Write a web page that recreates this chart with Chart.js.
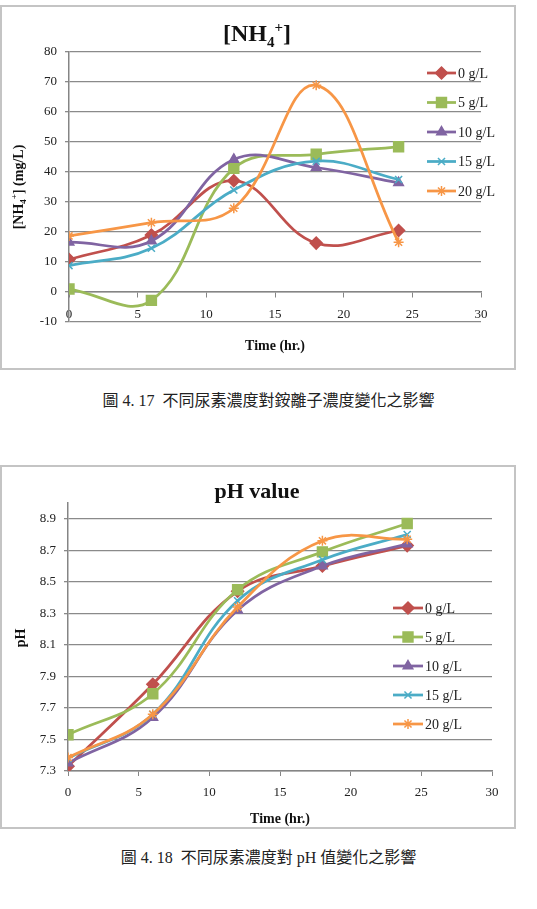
<!DOCTYPE html>
<html>
<head>
<meta charset="utf-8">
<script src="https://cdn.jsdelivr.net/npm/chart.js@4.4.1/dist/chart.umd.min.js"></script>
<style>
  body { margin: 0; background: #fff; width: 537px; height: 909px; position: relative; overflow: hidden; }
  .wrap { position: absolute; left: 0; width: 516px; }
  .frame { position: absolute; left: 0; top: 0; right: 0; bottom: 0; border: 2px solid #c4c4c4; pointer-events: none; }
  .caption { position: absolute; left: 0; width: 537px; text-align: center; font-family: "Liberation Serif", "Noto Sans CJK TC", serif; font-size: 16px; color: #222; }
</style>
</head>
<body>
<div class="wrap" style="top:5px;height:365px;"><canvas id="nh4Chart"></canvas><div class="frame"></div></div>
<div class="caption" style="top:387px;">圖 4. 17&nbsp; 不同尿素濃度對銨離子濃度變化之影響</div>
<div class="wrap" style="top:465px;height:364px;"><canvas id="phChart"></canvas><div class="frame"></div></div>
<div class="caption" style="top:844px;">圖 4. 18&nbsp; 不同尿素濃度對 pH 值變化之影響</div>

<script>
// time points (hr.)
const timeHours = [0, 6, 12, 18, 24];
const seriesLabels = ['0 g/L', '5 g/L', '10 g/L', '15 g/L', '20 g/L'];

// [NH4+] (mg/L)
const nh4_0 = [10.8, 19.0, 37.1, 16.3, 20.5];
const nh4_5 = [1.0, -2.8, 41.2, 45.9, 48.4];
const nh4_10 = [16.6, 17.0, 44.2, 41.5, 36.4];
const nh4_15 = [8.8, 14.6, 34.0, 43.6, 37.5];
const nh4_20 = [18.7, 23.1, 27.9, 68.9, 16.6];

// pH
const ph_0 = [7.33, 7.85, 8.44, 8.60, 8.73];
const ph_5 = [7.53, 7.79, 8.45, 8.69, 8.87];
const ph_10 = [7.35, 7.64, 8.32, 8.60, 8.74];
const ph_15 = [7.38, 7.66, 8.38, 8.64, 8.80];
const ph_20 = [7.385, 7.66, 8.34, 8.76, 8.77];

const phTicks = [7.3, 7.5, 7.7, 7.9, 8.1, 8.3, 8.5, 8.7, 8.9];

const colors = ['#C0504D', '#9BBB59', '#8064A2', '#4BACC6', '#F79646'];
const markers = ['rectRot', 'rect', 'triangle', 'crossRot', 'star'];
const markerSizes = [6, 7, 5.5, 5, 5];
const SERIF = '"Liberation Serif", "Times New Roman", serif';

function makeDatasets(seriesList) {
  return seriesList.map((vals, i) => ({
    label: seriesLabels[i],
    data: vals.map((v, j) => ({ x: timeHours[j], y: v })),
    borderColor: colors[i],
    backgroundColor: colors[i],
    borderWidth: 2.75,
    tension: 0.4,
    pointStyle: markers[i],
    pointRadius: markerSizes[i],
    pointBorderWidth: 1.5,
    pointBackgroundColor: colors[i],
    pointBorderColor: colors[i]
  })).reverse();
}

// draw text made of parts with optional sub/superscripts, centered at (cx, cy)
function drawRich(ctx, parts, cx, cy, size) {
  const small = Math.round(size * 0.62);
  let total = 0;
  parts.forEach(p => {
    ctx.font = 'bold ' + (p.sub || p.sup ? small : size) + 'px ' + SERIF;
    p.w = ctx.measureText(p.t).width;
    total += p.w;
  });
  let x = cx - total / 2;
  ctx.textBaseline = 'alphabetic';
  ctx.textAlign = 'left';
  parts.forEach(p => {
    ctx.font = 'bold ' + (p.sub || p.sup ? small : size) + 'px ' + SERIF;
    let dy = 0;
    if (p.sub) dy = size * 0.22;
    if (p.sup) dy = -size * 0.4;
    ctx.fillText(p.t, x, cy + size * 0.35 + dy);
    x += p.w;
  });
}

function textPlugin(cfg) {
  return {
    id: 'texts',
    afterDraw(chart) {
      const ctx = chart.ctx;
      ctx.save();
      ctx.fillStyle = '#111';
      drawRich(ctx, cfg.title, cfg.titleX, cfg.titleY, cfg.titleSize);
      drawRich(ctx, [{ t: 'Time (hr.)' }], cfg.xTitleX, cfg.xTitleY, 14);
      ctx.save();
      ctx.translate(cfg.yTitleX, cfg.yTitleY);
      ctx.rotate(-Math.PI / 2);
      drawRich(ctx, cfg.yTitle, 0, 0, 14);
      ctx.restore();

      // legend, in original series order
      const ds = chart.data.datasets.slice().reverse();
      ds.forEach((d, i) => {
        const y = cfg.legendY + i * cfg.legendGap;
        ctx.strokeStyle = d.borderColor;
        ctx.lineWidth = 2.75;
        ctx.beginPath();
        ctx.moveTo(cfg.legendX, y);
        ctx.lineTo(cfg.legendX + cfg.legendLen, y);
        ctx.stroke();
        ctx.fillStyle = d.pointBackgroundColor;
        ctx.strokeStyle = d.pointBorderColor;
        ctx.lineWidth = d.pointBorderWidth;
        Chart.helpers.drawPoint(ctx, { pointStyle: d.pointStyle, radius: d.pointRadius, rotation: 0, borderWidth: d.pointBorderWidth }, cfg.legendX + cfg.legendLen / 2, y);
        ctx.fillStyle = '#222';
        ctx.font = '14px ' + SERIF;
        ctx.textAlign = 'left';
        ctx.textBaseline = 'middle';
        ctx.fillText(d.label, cfg.legendX + cfg.legendLen + 2, y + 1);
      });
      ctx.restore();
    }
  };
}

const tickFont = { family: SERIF, size: 13 };

// Chart 1: [NH4+]
new Chart(document.getElementById('nh4Chart'), {
  type: 'line',
  data: { datasets: makeDatasets([nh4_0, nh4_5, nh4_10, nh4_15, nh4_20]) },
  options: {
    responsive: true,
    maintainAspectRatio: false,
    animation: false,
    layout: { padding: { left: 0, top: 47, right: 35, bottom: 48 } },
    plugins: { legend: { display: false }, tooltip: { enabled: false } },
    scales: {
      x: {
        type: 'linear', min: 0, max: 30, position: { y: 0 },
        ticks: { stepSize: 5, font: tickFont, color: '#222', padding: 10, maxRotation: 0 },
        grid: { drawOnChartArea: false, tickLength: 5, color: '#858585' },
        border: { color: '#858585', width: 1.5 }
      },
      y: {
        min: -10, max: 80,
        ticks: { stepSize: 10, font: tickFont, color: '#222', padding: 8 },
        grid: { color: '#8a8a8a', lineWidth: 1.3, tickLength: 4 },
        border: { color: '#858585', width: 1.5 },
        afterFit(s) { s.width = 69; }
      }
    }
  },
  plugins: [textPlugin({
    title: [{ t: '[NH' }, { t: '4', sub: true }, { t: '+', sup: true }, { t: ']' }],
    titleX: 257, titleY: 28, titleSize: 24,
    xTitleX: 275, xTitleY: 340,
    yTitle: [{ t: '[NH' }, { t: '4', sub: true }, { t: '+', sup: true }, { t: '] (mg/L)' }],
    yTitleX: 18, yTitleY: 182,
    legendX: 427, legendLen: 29, legendY: 68, legendGap: 29.5
  })]
});

// Chart 2: pH
new Chart(document.getElementById('phChart'), {
  type: 'line',
  data: { datasets: makeDatasets([ph_0, ph_5, ph_10, ph_15, ph_20]) },
  options: {
    responsive: true,
    maintainAspectRatio: false,
    animation: false,
    layout: { padding: { left: 0, top: 38, right: 24, bottom: 0 } },
    plugins: { legend: { display: false }, tooltip: { enabled: false } },
    scales: {
      x: {
        type: 'linear', min: 0, max: 30,
        ticks: { stepSize: 5, font: tickFont, color: '#222', padding: 9, maxRotation: 0 },
        grid: { drawOnChartArea: false, tickLength: 5, color: '#858585' },
        border: { color: '#858585', width: 1.5 },
        afterFit(s) { s.height = 58; }
      },
      y: {
        min: 7.3, max: 9.0,
        afterBuildTicks(s) { s.ticks = phTicks.map(v => ({ value: v })); },
        ticks: { font: tickFont, color: '#222', padding: 8, callback: v => v.toFixed(1) },
        grid: { color: '#8a8a8a', lineWidth: 1.3, tickLength: 4 },
        border: { color: '#858585', width: 1.5 },
        afterFit(s) { s.width = 68; }
      }
    }
  },
  plugins: [textPlugin({
    title: [{ t: 'pH value' }],
    titleX: 257, titleY: 25, titleSize: 22,
    xTitleX: 280, xTitleY: 353,
    yTitle: [{ t: 'pH' }],
    yTitleX: 20, yTitleY: 173,
    legendX: 393, legendLen: 30, legendY: 143, legendGap: 29
  })]
});
</script>
</body>
</html>
